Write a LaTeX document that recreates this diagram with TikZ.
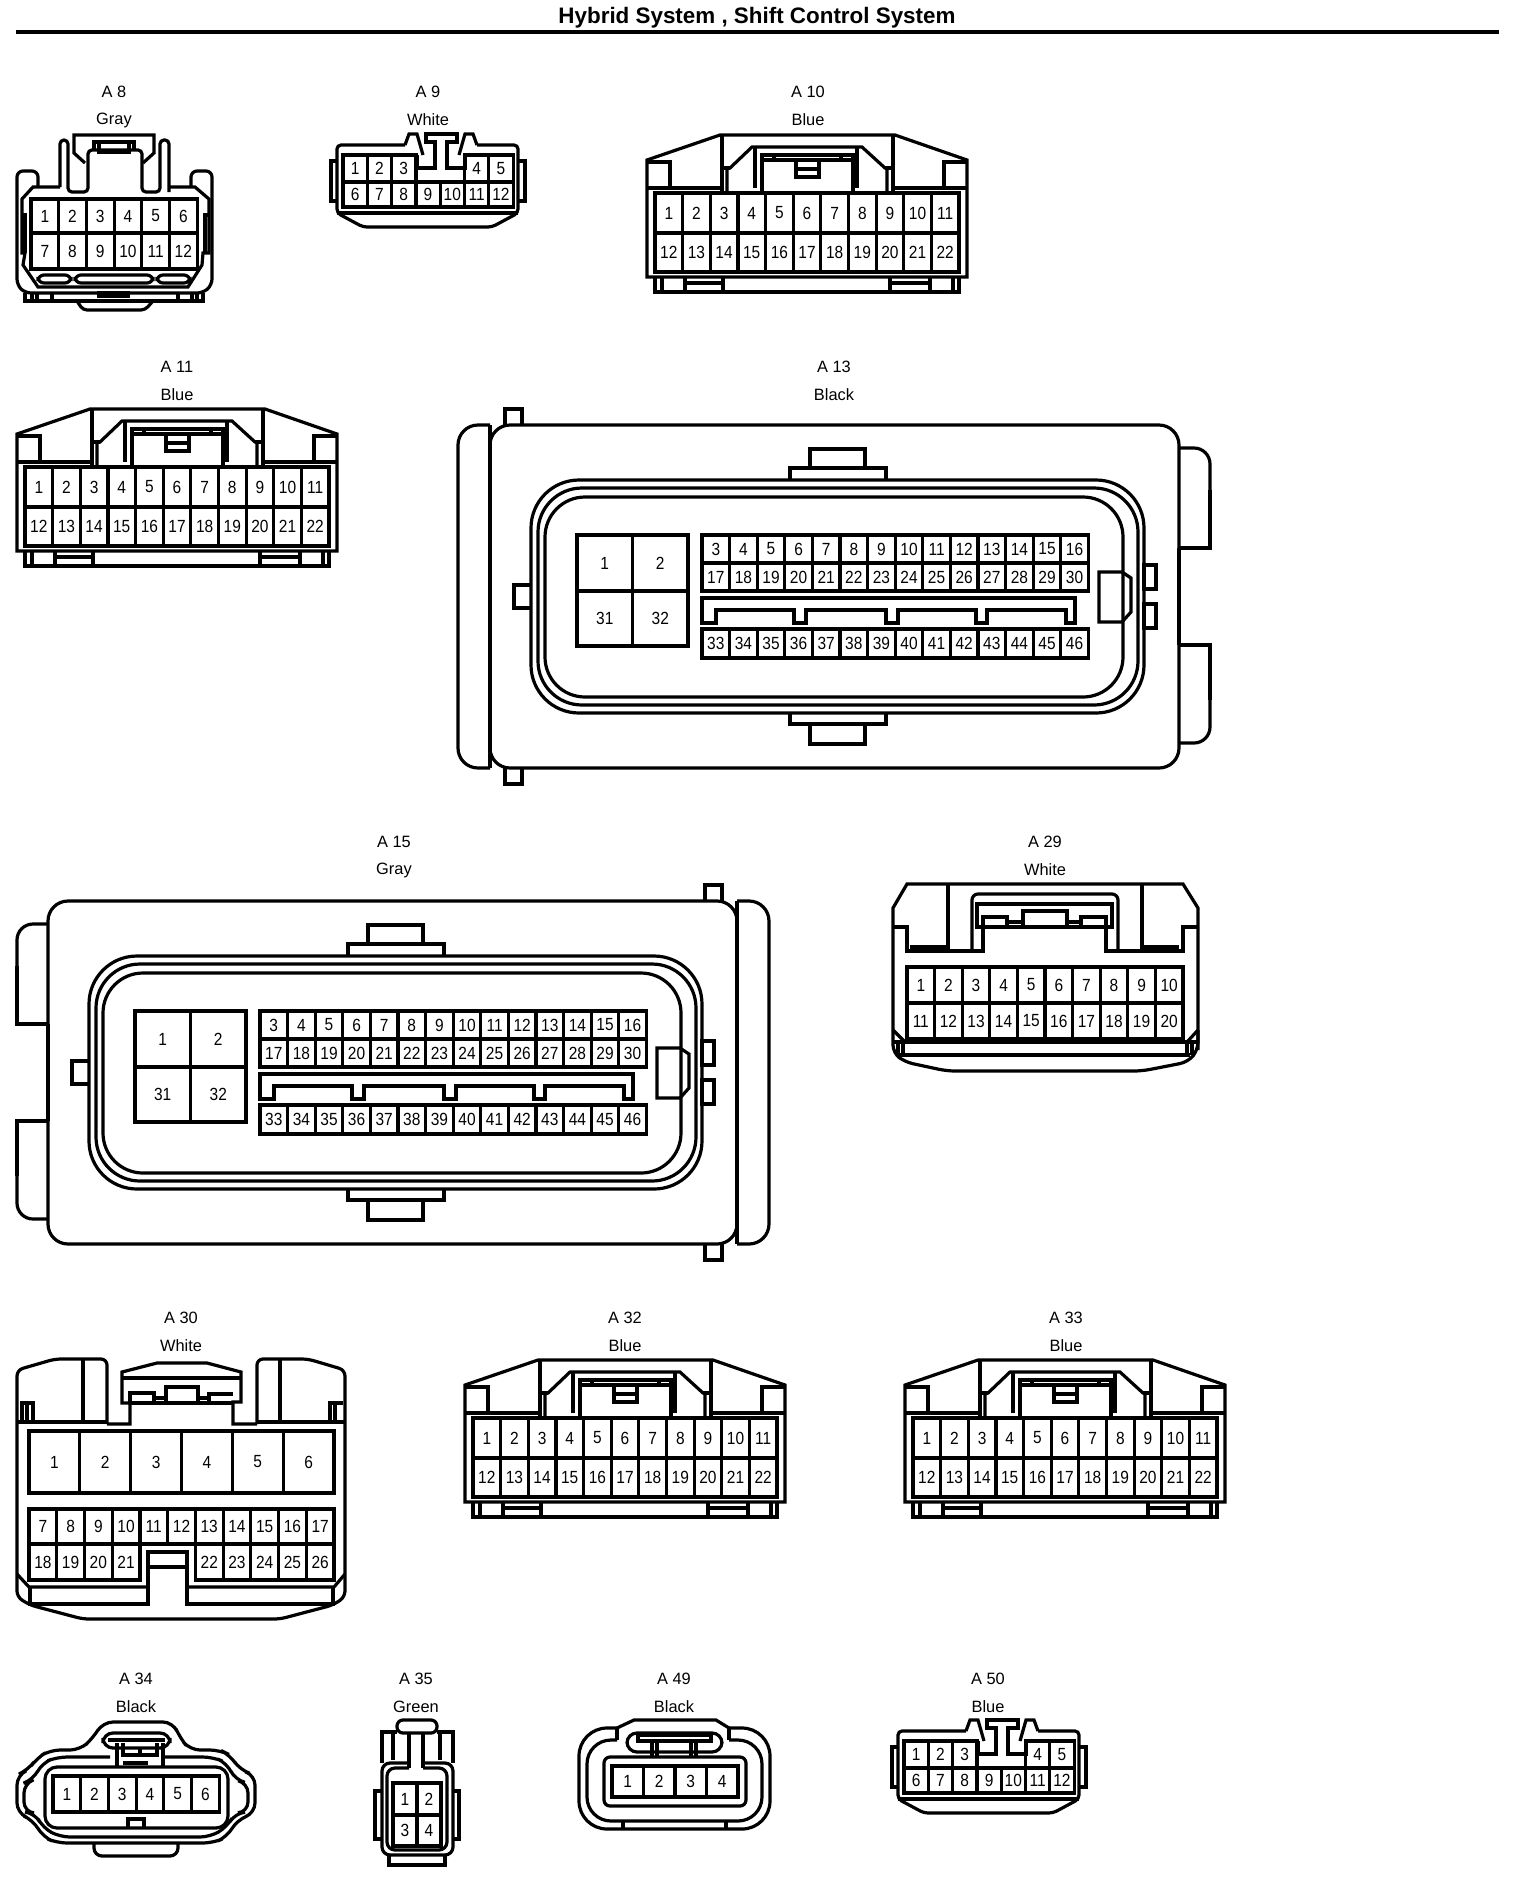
\documentclass[tikz,border=0pt]{standalone}
\usepackage{fontspec}
\setmainfont{Liberation Sans}
\newfontfamily\pinfont[FakeStretch=0.88]{Liberation Sans}

% one row of numbered cavities, coordinates are reference pixels
\newcommand{\pinrow}[6]{
    \foreach \n [count=\i from 0] in {#6}
        \node[cavity node, minimum width=#4*0.5pt, minimum height=#5*0.5pt] (#1-\n) at ({#2+\i*#4+#4/2},{#3+#5/2}) {\n};
}
\newcommand{\conntag}[5]{
    \node[tag node] (#1tag) at (#2,#3) {#4};
    \node[tag node] (#1col) [below of = #1tag] {#5};
}
% 12 way housing, used for A9 and A50
\newcommand{\twelveway}[3]{
    \begin{scope}[shift={(#2,#3)}]
        \draw[rounded corners=2pt] (405,145) -- (337,145) -- (337,213) -- (363,227) -- (492,227) -- (518,213) -- (518,145) -- (477,145);
        \draw (337,213) -- (518,213);
        \draw (337,161) -- (331,161) -- (331,201) -- (337,201);
        \draw (518,161) -- (525,161) -- (525,201) -- (518,201);
        \draw (405,145) -- (409,134) -- (417,134) -- (423,155);
        \draw (477,145) -- (473,134) -- (465,134) -- (459,155);
        \draw (417,155) -- (417,168) -- (435,168) -- (435,142) -- (426,142) -- (426,134) -- (457,134) -- (457,142) -- (447,142) -- (447,168) -- (465,168) -- (465,155);
        \pinrow{#1}{343}{155}{24.3}{27}{1,2,3}
        \pinrow{#1}{464.5}{155}{24.3}{27}{4,5}
        \pinrow{#1}{343}{182}{24.3}{25}{6,...,12}
    \end{scope}
}
% 22 way housing, used for A10, A11, A32 and A33
\newcommand{\twentytwoway}[3]{
    \begin{scope}[shift={(#2,#3)}]
        \draw (647,277) -- (647,160) -- (720,135) -- (895,135) -- (967,160) -- (967,277) -- cycle;
        \draw (647,162) -- (670,162) -- (670,188) (647,188) -- (722,188);
        \draw (967,162) -- (944,162) -- (944,188) (967,188) -- (893,188);
        \draw (722,135) -- (722,193) (893,135) -- (893,193);
        \draw (727,193) -- (727,168) -- (730,168) -- (752,147) -- (862,147) -- (885,168) -- (887,168) -- (887,193);
        \draw (722,168) -- (730,168) (885,168) -- (893,168);
        \draw (755,147) -- (755,188) (857,147) -- (857,188);
        \draw (762,193) -- (762,155) -- (853,155) -- (853,193) (762,160) -- (853,160);
        \draw (774,155) -- (774,160) (841,155) -- (841,160);
        \draw (796,160) -- (796,177) -- (819,177) -- (819,160) (796,169) -- (819,169);
        \draw (655,277) -- (655,292) -- (959,292) -- (959,277);
        \draw (662,277) -- (662,292) (685,277) -- (685,292) (723,277) -- (723,292);
        \draw (890,277) -- (890,292) (930,277) -- (930,292) (953,277) -- (953,292);
        \draw (685,283) -- (723,283) (890,283) -- (930,283);
        \pinrow{#1}{655}{193}{27.64}{40}{1,...,11}
        \pinrow{#1}{655}{233}{27.64}{39}{12,...,22}
    \end{scope}
}
% body of the 46 way housing, same inside for A13 and A15
\newcommand{\ecubody}[3]{
    \begin{scope}[shift={(#2,#3)}]
        \draw[rounded corners=10pt] (490,425) rectangle (1179,768);
        \draw (790,480) -- (790,468) -- (886,468) -- (886,480) (810,468) -- (810,449) -- (865,449) -- (865,468);
        \draw (790,713) -- (790,724) -- (886,724) -- (886,713) (810,724) -- (810,744) -- (865,744) -- (865,724);
        \draw (531,585) -- (514,585) -- (514,608) -- (531,608);
        \draw (1144,565) rectangle (1156,589) (1144,604) rectangle (1156,628);
        \draw[rounded corners=24pt] (531,480) rectangle (1144,713);
        \draw[rounded corners=22pt] (538,488) rectangle (1138,705);
        \draw[rounded corners=20pt] (545,497) rectangle (1123,697);
        \draw (1099,572) -- (1122,572) -- (1131,578) -- (1131,612) -- (1122,622) -- (1099,622) -- cycle;
        \draw (702,598) -- (1075,598) -- (1075,623) -- (1066,623) -- (1066,610) -- (987,610) -- (987,623) -- (976,623) -- (976,610) -- (898,610) -- (898,623) -- (886,623) -- (886,610) -- (806,610) -- (806,623) -- (794,623) -- (794,610) -- (716,610) -- (716,623) -- (702,623) -- cycle;
        \pinrow{#1}{577}{535}{55.5}{56}{1,2}
        \pinrow{#1}{577}{591}{55.5}{55}{31,32}
        \pinrow{#1}{702}{535}{27.6}{28}{3,...,16}
        \pinrow{#1}{702}{563}{27.6}{28}{17,...,30}
        \pinrow{#1}{702}{629}{27.6}{29}{33,...,46}
    \end{scope}
}
\newcommand{\ecuside}{
    \draw[rounded corners=10pt] (490,425) -- (458,425) -- (458,768) -- (490,768);
    \draw (490,425) -- (490,768);
    \draw (505,425) -- (505,409) -- (522,409) -- (522,425) (505,768) -- (505,784) -- (522,784) -- (522,768);
    \draw[rounded corners=8pt] (1179,448) -- (1210,448) -- (1210,500);
    \draw (1210,490) -- (1210,548) -- (1179,548);
    \draw[line width=2.4pt] (1179,548) -- (1179,645);
    \draw (1179,645) -- (1210,645) -- (1210,700);
    \draw[rounded corners=8pt] (1210,690) -- (1210,743) -- (1179,743);
}

\begin{document}
\begin{tikzpicture}[x=0.5pt,y=-0.5pt,line width=1.6pt,node distance=14pt,
    cavity node/.style={rectangle,draw,inner sep=0pt,outer sep=0pt,font=\pinfont\fontsize{8.8}{10}\selectfont},
    tag node/.style={inner sep=0pt,font=\fontsize{8.2}{10}\selectfont}]

    \useasboundingbox (0,0) rectangle (1536,1880);

    \node[font=\bfseries\fontsize{11.2}{13}\selectfont] (title) at (757,18) {Hybrid System , Shift Control System};
    \coordinate (rule west) at (16,32);
    \coordinate (rule east) at (1499,32);
    \draw[line width=2pt] (rule west) -- (rule east);

    \conntag{a8}{114}{92}{A 8}{Gray}
    \conntag{a9}{428}{92}{A 9}{White}
    \conntag{a10}{808}{92}{A 10}{Blue}
    \conntag{a11}{177}{367}{A 11}{Blue}
    \conntag{a13}{834}{367}{A 13}{Black}
    \conntag{a15}{394}{842}{A 15}{Gray}
    \conntag{a29}{1045}{842}{A 29}{White}
    \conntag{a30}{181}{1318}{A 30}{White}
    \conntag{a32}{625}{1318}{A 32}{Blue}
    \conntag{a33}{1066}{1318}{A 33}{Blue}
    \conntag{a34}{136}{1679}{A 34}{Black}
    \conntag{a35}{416}{1679}{A 35}{Green}
    \conntag{a49}{674}{1679}{A 49}{Black}
    \conntag{a50}{988}{1679}{A 50}{Blue}

    % A8
    \draw[rounded corners=3pt] (38,187) -- (38,171) -- (17,171) -- (17,285) -- (25,293) -- (203,293) -- (212,285) -- (212,171) -- (191,171) -- (191,187);
    \draw (60,187) -- (33,187) -- (22,199) -- (22,253) -- (25,253) -- (23,265) -- (38,287) -- (188,287) -- (202,265) -- (203,253) -- (209,253) -- (209,199) -- (195,187) -- (169,187);
    \draw (22,215) -- (25,215) -- (25,253) (209,215) -- (205,215) -- (205,253);
    \draw[rounded corners=2pt] (60,187) -- (60,140) -- (68,140) -- (68,192) -- (88,192) -- (88,150) -- (142,150) -- (142,192) -- (160,192) -- (160,140) -- (169,140) -- (169,192);
    \draw (85,163) -- (74,153) -- (74,135) -- (154,135) -- (154,153) -- (143,163);
    \draw (94,150) -- (94,142) -- (134,142) -- (134,150) (99,142) -- (99,152) -- (129,152) -- (129,142);
    \draw[rounded corners=3pt] (38,275) rectangle (71,283) (75,275) rectangle (153,283) (157,275) rectangle (190,283);
    \draw (25,293) -- (25,301) -- (203,301) -- (203,293);
    \draw (32,293) -- (32,301) (37,293) -- (37,301) (52,293) -- (52,301) (178,293) -- (178,301) (192,293) -- (192,301) (197,293) -- (197,301);
    \draw (99,293) rectangle (128,296);
    \draw[rounded corners=2pt] (77,301) -- (83,310) -- (145,310) -- (153,301);
    \pinrow{a8}{31}{199}{27.7}{34}{1,...,6}
    \pinrow{a8}{31}{233}{27.7}{36}{7,...,12}

    \twelveway{a9}{0}{0}
    \twentytwoway{a10}{0}{0}
    \twentytwoway{a11}{-630}{274}

    % A13
    \ecubody{a13}{0}{0}
    \ecuside

    % A15
    \ecubody{a15}{-442}{476}
    \begin{scope}[shift={(1227,476)},xscale=-1]
        \ecuside
    \end{scope}

    % A29
    \draw (893,1030) -- (893,908) -- (907,884) -- (1183,884) -- (1198,908) -- (1198,1050);
    \draw[rounded corners=4pt] (893,1030) -- (893,1053) -- (905,1062) -- (947,1071) -- (1142,1071) -- (1188,1062) -- (1198,1050) -- (1198,1030);
    \draw (893,927) -- (907,927) -- (907,951) -- (983,951) -- (983,917) -- (1007,917) -- (1007,927);
    \draw (1198,927) -- (1183,927) -- (1183,951) -- (1106,951) -- (1106,917) -- (1081,917) -- (1081,927);
    \draw (977,927) -- (977,904) -- (1112,904) -- (1112,927) -- cycle;
    \draw (1023,925) -- (1023,911) -- (1067,911) -- (1067,925);
    \draw (1007,922) -- (1023,922) (1067,922) -- (1081,922);
    \draw (948,884) -- (948,951) (1142,884) -- (1142,951);
    \draw[rounded corners=3pt] (972,951) -- (972,894) -- (1118,894) -- (1118,951);
    \draw (912,951) -- (912,947) -- (948,947) (1142,947) -- (1177,947) -- (1177,951);
    \draw (893,1042) -- (1198,1042) (898,1055) -- (1190,1055);
    \draw (893,1030) -- (905,1042) (1198,1030) -- (1187,1042);
    \draw (898,1042) -- (898,1055) (903,1042) -- (903,1055) (1187,1042) -- (1187,1055) (1192,1042) -- (1192,1055);
    \pinrow{a29}{907}{967}{27.6}{36}{1,...,10}
    \pinrow{a29}{907}{1003}{27.6}{36}{11,...,20}

    % A30
    \draw[rounded corners=3pt] (107,1424) -- (107,1359) -- (55,1359) -- (17,1370) -- (17,1597) -- (30,1605) -- (83,1619) -- (280,1619) -- (333,1605) -- (345,1597) -- (345,1370) -- (308,1359) -- (257,1359) -- (257,1424);
    \draw (83,1359) -- (83,1422) (280,1359) -- (280,1422);
    \draw (22,1422) -- (22,1403) -- (33,1403) -- (33,1422) (27,1403) -- (27,1422);
    \draw (330,1422) -- (330,1403) -- (343,1403) (335,1403) -- (335,1422);
    \draw (17,1422) -- (107,1422) (257,1422) -- (345,1422);
    \draw (107,1424) -- (130,1424) -- (130,1403) -- (122,1403) -- (122,1372) -- (157,1363) -- (207,1363) -- (241,1372) -- (241,1402) -- (233,1402) -- (233,1424) -- (257,1424);
    \draw (122,1378) -- (241,1378) (130,1403) -- (233,1403);
    \draw (130,1403) -- (130,1393) -- (154,1393) -- (154,1403) (166,1403) -- (166,1387) -- (198,1387) -- (198,1403) (209,1403) -- (209,1394) -- (233,1394);
    \draw (154,1398) -- (166,1398) (198,1398) -- (209,1398);
    \draw (17,1574) -- (29,1587) -- (148,1587) (187,1587) -- (334,1587) -- (345,1574);
    \draw (30,1587) -- (30,1604) -- (148,1604) -- (148,1552) -- (187,1552) -- (187,1604) -- (333,1604) -- (333,1587);
    \draw (148,1567) -- (187,1567);
    \pinrow{a30}{29}{1431}{50.83}{62}{1,...,6}
    \pinrow{a30}{29}{1509}{27.73}{35}{7,...,17}
    \pinrow{a30}{29}{1544}{27.73}{36}{18,...,21}
    \pinrow{a30}{195.4}{1544}{27.73}{36}{22,...,26}

    \twentytwoway{a32}{-182}{1225}
    \twentytwoway{a33}{258}{1225}

    % A34
    \draw[rounded corners=5pt] (17,1775) -- (17,1813) -- (33,1820) -- (43,1837) -- (57,1843) -- (213,1843) -- (227,1837) -- (237,1820) -- (255,1813) -- (255,1775) -- (240,1770) -- (230,1755) -- (220,1750) -- (190,1750) -- (180,1738) -- (173,1722) -- (103,1722) -- (93,1738) -- (80,1750) -- (50,1750) -- (37,1758) -- (28,1770) -- cycle;
    \draw[rounded corners=5pt] (110,1757) -- (57,1757) -- (42,1763) -- (33,1780) -- (24,1783) -- (24,1812) -- (35,1813) -- (43,1828) -- (60,1837) -- (210,1837) -- (227,1827) -- (235,1813) -- (248,1812) -- (248,1783) -- (235,1780) -- (227,1763) -- (213,1757) -- (163,1757);
    \draw[rounded corners=6pt] (45,1767) rectangle (228,1828);
    \draw[rounded corners=5pt] (103,1733) rectangle (170,1748);
    \draw (108,1740) -- (165,1740);
    \draw (117,1743) -- (117,1767) (163,1743) -- (163,1767) (123,1743) -- (123,1755) -- (157,1755) -- (157,1743);
    \draw (140,1748) -- (140,1755) (123,1763) -- (148,1763);
    \draw (128,1827) -- (128,1819) -- (144,1819) -- (144,1827);
    \draw[rounded corners=4pt] (94,1843) -- (94,1856) -- (178,1856) -- (178,1843);
    \pinrow{a34}{53}{1776}{27.7}{36}{1,...,6}

    % A35
    \draw[rounded corners=3pt] (397,1720) rectangle (437,1733);
    \draw (397,1732) -- (382,1732) -- (382,1763) (437,1732) -- (453,1732) -- (453,1763);
    \draw (393,1733) -- (393,1760) (440,1733) -- (440,1760);
    \draw (409,1733) -- (409,1768) (423,1733) -- (423,1768);
    \draw[rounded corners=4pt] (409,1763) -- (382,1763) -- (382,1855) -- (453,1855) -- (453,1763) -- (423,1763);
    \draw[rounded corners=4pt] (409,1768) -- (387,1768) -- (387,1850) -- (447,1850) -- (447,1768) -- (423,1768);
    \draw (382,1791) -- (375,1791) -- (375,1839) -- (382,1839) (453,1791) -- (459,1791) -- (459,1839) -- (453,1839);
    \draw (389,1855) -- (389,1865) -- (445,1865) -- (445,1855);
    \pinrow{a35}{393}{1783}{24}{32}{1,2}
    \pinrow{a35}{393}{1815}{24}{31}{3,4}

    % A49
    \draw (617,1728) -- (634,1720) -- (716,1720) -- (729,1728);
    \draw[rounded corners=14pt] (729,1728) -- (770,1728) -- (770,1829) -- (579,1829) -- (579,1728) -- (617,1728);
    \draw[rounded corners=12pt] (729,1740) -- (762,1740) -- (762,1821) -- (587,1821) -- (587,1740) -- (617,1740);
    \draw (623,1821) -- (623,1829) (726,1821) -- (726,1829) (617,1728) -- (617,1740) (729,1728) -- (729,1740);
    \draw[rounded corners=5pt] (627,1733) rectangle (722,1752);
    \draw (638,1735) rectangle (711,1741);
    \draw (652,1741) -- (652,1757) (657,1741) -- (657,1757) (691,1741) -- (691,1757) (696,1741) -- (696,1757);
    \draw[rounded corners=3pt] (604,1757) rectangle (746,1806);
    \pinrow{a49}{612}{1766}{31.5}{31}{1,...,4}

    \twelveway{a50}{561}{1586}
\end{tikzpicture}
\end{document}
